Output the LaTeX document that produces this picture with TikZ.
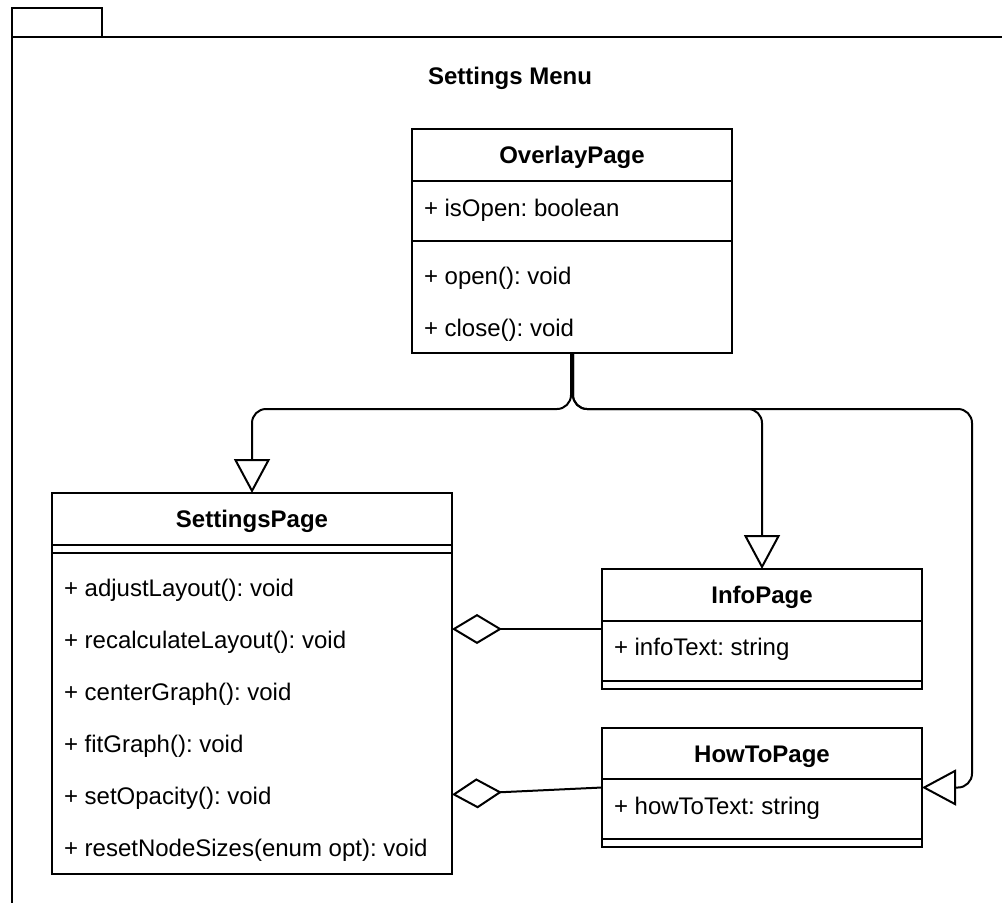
\documentclass[tikz,border=0pt]{standalone}
\usepackage{fontspec}
\setmainfont{Liberation Sans}
\usetikzlibrary{arrows.meta,calc}
\frenchspacing
\begin{document}
\begin{tikzpicture}[x=1pt,y=-1pt,line width=2pt,
  classbox/.style={draw,rectangle,anchor=north west,inner sep=0pt,outer sep=0pt},
  classname/.style={font=\fontsize{24}{28}\selectfont\bfseries,anchor=base,yshift=-8.5pt,inner sep=0pt},
  member/.style={font=\fontsize{24}{28}\selectfont,anchor=base west,yshift=-8.5pt,inner sep=0pt},
  pkgtitle/.style={font=\fontsize{24}{28}\selectfont\bfseries,anchor=base,yshift=-8.5pt,inner sep=0pt},
  inherit/.style={-{Triangle[open,length=34pt,width=36pt]},rounded corners=14pt},
  aggreg/.style={-{Diamond[open,length=50pt,width=30pt]}}
]
\useasboundingbox (0,0) rectangle (1002,903);

% package frame with its tab
\node[classbox,minimum width=90pt,minimum height=29pt] (tab) at (12,8) {};
\coordinate (frameright) at (1002,37);
\coordinate (framebottom) at (12,903);
\draw (tab.south west) -- (frameright);
\draw (tab.south west) -- (framebottom);
\node[pkgtitle] (pkgname) at (510,76) {Settings Menu};

% OverlayPage
\node[classbox,minimum width=320pt,minimum height=224pt] (overlay) at (412,129) {};
\node[classname] (overlayname) at (572,155) {OverlayPage};
\draw ($(overlay.north west)+(0,52)$) -- ($(overlay.north east)+(0,52)$);
\draw ($(overlay.north west)+(0,112)$) -- ($(overlay.north east)+(0,112)$);
\node[member] (overlayattr) at (423,208) {+ isOpen: boolean};
\node[member] (overlayopen) at (423,276) {+ open(): void};
\node[member] (overlayclose) at (423,328) {+ close(): void};

% SettingsPage
\node[classbox,minimum width=400pt,minimum height=381pt] (settings) at (52,493) {};
\node[classname] (settingsname) at (252,519) {SettingsPage};
\draw ($(settings.north west)+(0,52)$) -- ($(settings.north east)+(0,52)$);
\draw ($(settings.north west)+(0,60)$) -- ($(settings.north east)+(0,60)$);
\node[member] (m1) at (63,588) {+ adjustLayout(): void};
\node[member] (m2) at (63,640) {+ recalculateLayout(): void};
\node[member] (m3) at (63,692) {+ centerGraph(): void};
\node[member] (m4) at (63,744) {+ fitGraph(): void};
\node[member] (m5) at (63,796) {+ setOpacity(): void};
\node[member] (m6) at (63,848) {+ resetNodeSizes(enum opt): void};

% InfoPage
\node[classbox,minimum width=320pt,minimum height=120pt] (info) at (602,569) {};
\node[classname] (infoname) at (762,595) {InfoPage};
\draw ($(info.north west)+(0,52)$) -- ($(info.north east)+(0,52)$);
\draw ($(info.north west)+(0,112)$) -- ($(info.north east)+(0,112)$);
\node[member] (infoattr) at (613,647) {+ infoText: string};

% HowToPage
\node[classbox,minimum width=320pt,minimum height=119pt] (howto) at (602,728) {};
\node[classname] (howtoname) at (762,754) {HowToPage};
\draw ($(howto.north west)+(0,51)$) -- ($(howto.north east)+(0,51)$);
\draw ($(howto.north west)+(0,111)$) -- ($(howto.north east)+(0,111)$);
\node[member] (howtoattr) at (613,806) {+ howToText: string};

% generalisations
\draw[inherit] ([xshift=-1pt]overlay.south) -- ++(0,56) -| (settings.north);
\draw[inherit] ([xshift=1pt]overlay.south) -- ++(0,56) -| (info.north);
\draw[inherit] ([xshift=1pt]overlay.south) -- ++(0,56) -| ([xshift=50pt]howto.east)
  [rounded corners=8pt] -- (howto.east);

% aggregations
\draw[aggreg] (info.west) -- (settings.east |- info.west);
\draw[aggreg] (howto.west) -- ($(settings.east |- howto.west)+(0,7)$);
\end{tikzpicture}
\end{document}
